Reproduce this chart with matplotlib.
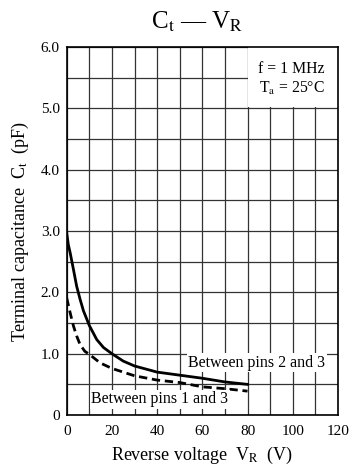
import matplotlib.pyplot as plt
from matplotlib.patches import Rectangle
from matplotlib.ticker import MultipleLocator

plt.rcParams['font.family'] = ['Liberation Serif', 'DejaVu Serif']
plt.rcParams['mathtext.fontset'] = 'stix'

# between pins 2 and 3: reverse voltage (V) / terminal capacitance (pF)
vr_23 = [0, 0.7, 1.5, 3, 4.4, 5.9, 7.4, 10, 13.3, 16.3, 20, 25, 30, 40, 50, 60, 70, 80]
ct_23 = [2.97, 2.78, 2.65, 2.37, 2.1, 1.89, 1.7, 1.46, 1.23, 1.1, 1.0, 0.88, 0.8, 0.7, 0.65, 0.6, 0.54, 0.5]
# between pins 1 and 3
vr_13 = [0, 1.5, 3, 4.4, 5.9, 8, 10, 14.8, 20, 30, 40, 50, 60, 70, 80]
ct_13 = [1.91, 1.67, 1.45, 1.29, 1.15, 1.04, 0.99, 0.85, 0.76, 0.64, 0.57, 0.53, 0.46, 0.43, 0.39]

fig = plt.figure(figsize=(3.52, 4.69), dpi=100)
ax = fig.add_axes([0.1895, 0.115, 0.7705, 0.785])

ax.plot(vr_23, ct_23, color='black', lw=2.0, zorder=3)
ax.plot(vr_13, ct_13, color='black', lw=2.0, ls=(0, (3, 1.7)), zorder=3)

ax.set_xlim(0, 120)
ax.set_ylim(0, 6.0)
ax.xaxis.set_major_locator(MultipleLocator(20))
ax.xaxis.set_minor_locator(MultipleLocator(10))
ax.yaxis.set_minor_locator(MultipleLocator(0.5))
ax.set_yticks([0, 1, 2, 3, 4, 5, 6])
ax.set_yticklabels(['0', '1.0', '2.0', '3.0', '4.0', '5.0', '6.0'])
ax.tick_params(which='both', length=0, labelsize=11)
ax.tick_params(axis='x', pad=7)
ax.tick_params(axis='y', pad=5)
ax.set_axisbelow(True)
ax.grid(which='both', color='#333333', lw=0.9)
for s in ax.spines.values():
    s.set_linewidth(1.2)

# blank area behind the conditions text
ax.add_patch(Rectangle((80.4, 5.02), 39.6, 0.98, facecolor='white', edgecolor='none', zorder=1))
ax.text(114.2, 5.58, 'f = 1 MHz', ha='right', va='baseline', fontsize=11.3, zorder=4)
ax.text(114.2, 5.25, r'T$_{\mathrm{a}}$ = 25°C', ha='right', va='baseline', fontsize=11.3, zorder=4)

ax.text(53.7, 0.85, 'Between pins 2 and 3', ha='left', va='center', fontsize=11.5, zorder=4,
        bbox=dict(facecolor='white', edgecolor='none', pad=1))
ax.text(10.8, 0.26, 'Between pins 1 and 3', ha='left', va='center', fontsize=11.5, zorder=4,
        bbox=dict(facecolor='white', edgecolor='none', pad=1))

ax.set_xlabel(r'Reverse voltage  V$_{\mathrm{R}}$  (V)', fontsize=13, labelpad=5)
ax.set_ylabel(r'Terminal capacitance  C$_{\mathrm{t}}$  (pF)', fontsize=13, labelpad=7)
fig.text(0.56, 0.953, r'C$_{\mathrm{t}}$ — V$_{\mathrm{R}}$', ha='center', va='center', fontsize=18)

fig.savefig('out.png', dpi=100)
